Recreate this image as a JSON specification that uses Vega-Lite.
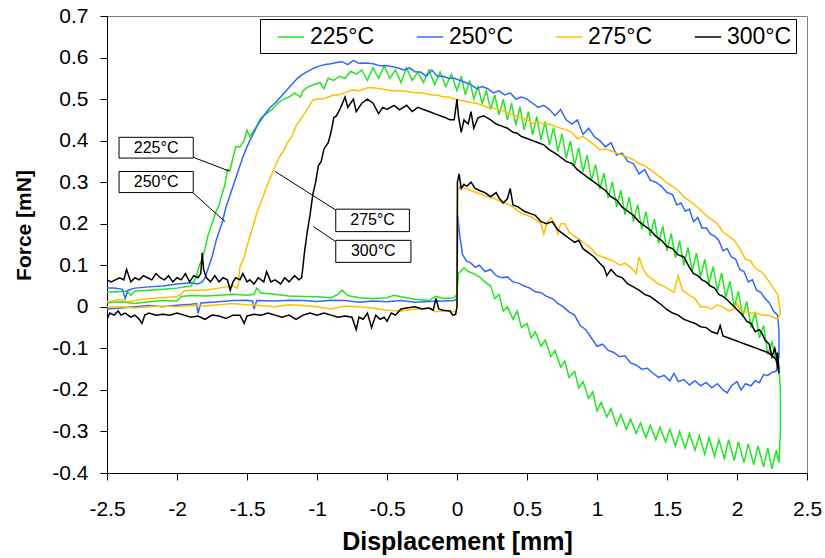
{
  "$schema": "https://vega.github.io/schema/vega-lite/v6.json",
  "width": 700,
  "height": 457,
  "autosize": {"type": "none"},
  "padding": {"left": 107, "top": 16, "right": 18, "bottom": 85},
  "background": "#ffffff",
  "config": {
    "font": "Liberation Sans",
    "view": {"stroke": "#808080", "strokeWidth": 1},
    "axis": {"grid": false, "domainColor": "#000000", "tickColor": "#000000", "labelColor": "#000000", "titleColor": "#000000", "labelFont": "Liberation Sans", "titleFont": "Liberation Sans", "labelFontSize": 21, "tickSize": 7, "labelFlush": false, "labelOverlap": false}
  },
  "datasets": {
    "curves": [
{"T":"225°C","x":-2.5,"y":0.01},{"T":"225°C","x":-2.4,"y":0.012},{"T":"225°C","x":-2.3,"y":0.008},{"T":"225°C","x":-2.2,"y":0.012},{"T":"225°C","x":-2.1,"y":0.015},{"T":"225°C","x":-2.0,"y":0.014},{"T":"225°C","x":-1.97,"y":0.025},{"T":"225°C","x":-1.9,"y":0.027},{"T":"225°C","x":-1.8,"y":0.026},{"T":"225°C","x":-1.7,"y":0.028},{"T":"225°C","x":-1.6,"y":0.03},{"T":"225°C","x":-1.5,"y":0.028},{"T":"225°C","x":-1.45,"y":0.03},{"T":"225°C","x":-1.43,"y":0.045},{"T":"225°C","x":-1.4,"y":0.033},{"T":"225°C","x":-1.3,"y":0.03},{"T":"225°C","x":-1.2,"y":0.026},{"T":"225°C","x":-1.1,"y":0.025},{"T":"225°C","x":-1.0,"y":0.024},{"T":"225°C","x":-0.9,"y":0.022},{"T":"225°C","x":-0.85,"y":0.03},{"T":"225°C","x":-0.82,"y":0.04},{"T":"225°C","x":-0.78,"y":0.027},{"T":"225°C","x":-0.7,"y":0.022},{"T":"225°C","x":-0.6,"y":0.02},{"T":"225°C","x":-0.5,"y":0.022},{"T":"225°C","x":-0.45,"y":0.028},{"T":"225°C","x":-0.4,"y":0.024},{"T":"225°C","x":-0.3,"y":0.018},{"T":"225°C","x":-0.2,"y":0.015},{"T":"225°C","x":-0.15,"y":0.025},{"T":"225°C","x":-0.1,"y":0.02},{"T":"225°C","x":-0.02,"y":0.022},{"T":"225°C","x":0.0,"y":0.03},
{"T":"225°C","x":0.01,"y":0.08},{"T":"225°C","x":0.05,"y":0.094},{"T":"225°C","x":0.08,"y":0.085},{"T":"225°C","x":0.12,"y":0.08},{"T":"225°C","x":0.16,"y":0.072},{"T":"225°C","x":0.2,"y":0.06},{"T":"225°C","x":0.24,"y":0.05},{"T":"225°C","x":0.27,"y":0.02},{"T":"225°C","x":0.3,"y":0.03},{"T":"225°C","x":0.33,"y":-0.01},{"T":"225°C","x":0.36,"y":0.0},{"T":"225°C","x":0.4,"y":-0.03},{"T":"225°C","x":0.43,"y":-0.01},{"T":"225°C","x":0.46,"y":-0.05},{"T":"225°C","x":0.5,"y":-0.04},{"T":"225°C","x":0.53,"y":-0.075},{"T":"225°C","x":0.56,"y":-0.06},{"T":"225°C","x":0.6,"y":-0.095},{"T":"225°C","x":0.63,"y":-0.08},{"T":"225°C","x":0.67,"y":-0.12},{"T":"225°C","x":0.7,"y":-0.105},{"T":"225°C","x":0.74,"y":-0.145},{"T":"225°C","x":0.77,"y":-0.13},{"T":"225°C","x":0.8,"y":-0.17},{"T":"225°C","x":0.84,"y":-0.155},{"T":"225°C","x":0.87,"y":-0.195},{"T":"225°C","x":0.9,"y":-0.18},{"T":"225°C","x":0.94,"y":-0.22},{"T":"225°C","x":0.97,"y":-0.205},{"T":"225°C","x":1.0,"y":-0.25},{"T":"225°C","x":1.03,"y":-0.23},{"T":"225°C","x":1.07,"y":-0.265},{"T":"225°C","x":1.1,"y":-0.245},{"T":"225°C","x":1.14,"y":-0.285},{"T":"225°C","x":1.17,"y":-0.26},{"T":"225°C","x":1.21,"y":-0.295},{"T":"225°C","x":1.24,"y":-0.27},{"T":"225°C","x":1.28,"y":-0.305},{"T":"225°C","x":1.31,"y":-0.28},{"T":"225°C","x":1.35,"y":-0.315},{"T":"225°C","x":1.38,"y":-0.285},{"T":"225°C","x":1.42,"y":-0.32},{"T":"225°C","x":1.45,"y":-0.29},{"T":"225°C","x":1.49,"y":-0.325},{"T":"225°C","x":1.52,"y":-0.295},{"T":"225°C","x":1.56,"y":-0.335},{"T":"225°C","x":1.59,"y":-0.3},{"T":"225°C","x":1.63,"y":-0.34},{"T":"225°C","x":1.66,"y":-0.305},{"T":"225°C","x":1.7,"y":-0.345},{"T":"225°C","x":1.73,"y":-0.31},{"T":"225°C","x":1.77,"y":-0.355},{"T":"225°C","x":1.8,"y":-0.315},{"T":"225°C","x":1.84,"y":-0.36},{"T":"225°C","x":1.87,"y":-0.32},{"T":"225°C","x":1.91,"y":-0.365},{"T":"225°C","x":1.94,"y":-0.32},{"T":"225°C","x":1.98,"y":-0.37},{"T":"225°C","x":2.01,"y":-0.325},{"T":"225°C","x":2.05,"y":-0.375},{"T":"225°C","x":2.08,"y":-0.33},{"T":"225°C","x":2.12,"y":-0.38},{"T":"225°C","x":2.15,"y":-0.335},{"T":"225°C","x":2.19,"y":-0.385},{"T":"225°C","x":2.22,"y":-0.34},{"T":"225°C","x":2.25,"y":-0.39},{"T":"225°C","x":2.28,"y":-0.345},{"T":"225°C","x":2.3,"y":-0.375},
{"T":"225°C","x":2.31,"y":-0.3},{"T":"225°C","x":2.31,"y":-0.2},{"T":"225°C","x":2.3,"y":-0.15},
{"T":"225°C","x":2.28,"y":-0.13},{"T":"225°C","x":2.25,"y":-0.085},{"T":"225°C","x":2.22,"y":-0.115},{"T":"225°C","x":2.19,"y":-0.045},{"T":"225°C","x":2.16,"y":-0.075},{"T":"225°C","x":2.13,"y":-0.012},{"T":"225°C","x":2.1,"y":-0.05},{"T":"225°C","x":2.07,"y":0.013},{"T":"225°C","x":2.04,"y":-0.025},{"T":"225°C","x":2.01,"y":0.037},{"T":"225°C","x":1.98,"y":0.0},{"T":"225°C","x":1.95,"y":0.062},{"T":"225°C","x":1.92,"y":0.023},{"T":"225°C","x":1.89,"y":0.081},{"T":"225°C","x":1.86,"y":0.039},{"T":"225°C","x":1.83,"y":0.097},{"T":"225°C","x":1.8,"y":0.055},{"T":"225°C","x":1.77,"y":0.114},{"T":"225°C","x":1.74,"y":0.072},{"T":"225°C","x":1.71,"y":0.129},{"T":"225°C","x":1.68,"y":0.086},{"T":"225°C","x":1.65,"y":0.143},{"T":"225°C","x":1.62,"y":0.1},{"T":"225°C","x":1.59,"y":0.159},{"T":"225°C","x":1.56,"y":0.118},{"T":"225°C","x":1.53,"y":0.176},{"T":"225°C","x":1.5,"y":0.135},{"T":"225°C","x":1.47,"y":0.194},{"T":"225°C","x":1.44,"y":0.153},{"T":"225°C","x":1.41,"y":0.211},{"T":"225°C","x":1.38,"y":0.17},{"T":"225°C","x":1.35,"y":0.229},{"T":"225°C","x":1.32,"y":0.187},{"T":"225°C","x":1.29,"y":0.246},{"T":"225°C","x":1.26,"y":0.205},{"T":"225°C","x":1.23,"y":0.264},{"T":"225°C","x":1.2,"y":0.222},{"T":"225°C","x":1.17,"y":0.281},{"T":"225°C","x":1.14,"y":0.24},{"T":"225°C","x":1.11,"y":0.301},{"T":"225°C","x":1.08,"y":0.261},{"T":"225°C","x":1.05,"y":0.322},{"T":"225°C","x":1.02,"y":0.283},{"T":"225°C","x":0.99,"y":0.343},{"T":"225°C","x":0.96,"y":0.304},{"T":"225°C","x":0.93,"y":0.365},{"T":"225°C","x":0.9,"y":0.325},{"T":"225°C","x":0.87,"y":0.383},{"T":"225°C","x":0.84,"y":0.341},{"T":"225°C","x":0.81,"y":0.399},{"T":"225°C","x":0.78,"y":0.358},{"T":"225°C","x":0.75,"y":0.416},{"T":"225°C","x":0.72,"y":0.374},{"T":"225°C","x":0.69,"y":0.432},{"T":"225°C","x":0.66,"y":0.39},{"T":"225°C","x":0.63,"y":0.446},{"T":"225°C","x":0.6,"y":0.402},{"T":"225°C","x":0.57,"y":0.458},{"T":"225°C","x":0.54,"y":0.414},{"T":"225°C","x":0.51,"y":0.47},{"T":"225°C","x":0.48,"y":0.426},{"T":"225°C","x":0.45,"y":0.482},{"T":"225°C","x":0.42,"y":0.437},{"T":"225°C","x":0.39,"y":0.49},{"T":"225°C","x":0.36,"y":0.45},{"T":"225°C","x":0.33,"y":0.5},{"T":"225°C","x":0.3,"y":0.462},{"T":"225°C","x":0.27,"y":0.51},{"T":"225°C","x":0.24,"y":0.475},{"T":"225°C","x":0.21,"y":0.52},{"T":"225°C","x":0.18,"y":0.49},{"T":"225°C","x":0.15,"y":0.53},{"T":"225°C","x":0.12,"y":0.5},{"T":"225°C","x":0.09,"y":0.545},{"T":"225°C","x":0.06,"y":0.51},{"T":"225°C","x":0.03,"y":0.555},{"T":"225°C","x":0.0,"y":0.52},{"T":"225°C","x":-0.04,"y":0.56},{"T":"225°C","x":-0.08,"y":0.53},{"T":"225°C","x":-0.12,"y":0.565},{"T":"225°C","x":-0.16,"y":0.535},{"T":"225°C","x":-0.2,"y":0.57},{"T":"225°C","x":-0.24,"y":0.54},{"T":"225°C","x":-0.28,"y":0.565},{"T":"225°C","x":-0.32,"y":0.545},{"T":"225°C","x":-0.36,"y":0.575},{"T":"225°C","x":-0.4,"y":0.54},{"T":"225°C","x":-0.44,"y":0.57},{"T":"225°C","x":-0.48,"y":0.55},{"T":"225°C","x":-0.52,"y":0.58},{"T":"225°C","x":-0.56,"y":0.55},{"T":"225°C","x":-0.6,"y":0.575},{"T":"225°C","x":-0.64,"y":0.545},{"T":"225°C","x":-0.68,"y":0.57},{"T":"225°C","x":-0.72,"y":0.56},{"T":"225°C","x":-0.76,"y":0.567},{"T":"225°C","x":-0.8,"y":0.55},{"T":"225°C","x":-0.84,"y":0.555},{"T":"225°C","x":-0.88,"y":0.545},{"T":"225°C","x":-0.92,"y":0.55},{"T":"225°C","x":-0.95,"y":0.525},{"T":"225°C","x":-0.98,"y":0.54},{"T":"225°C","x":-1.02,"y":0.535},{"T":"225°C","x":-1.06,"y":0.53},{"T":"225°C","x":-1.1,"y":0.52},{"T":"225°C","x":-1.12,"y":0.505},{"T":"225°C","x":-1.16,"y":0.515},{"T":"225°C","x":-1.2,"y":0.505},{"T":"225°C","x":-1.24,"y":0.5},{"T":"225°C","x":-1.28,"y":0.49},{"T":"225°C","x":-1.32,"y":0.475},{"T":"225°C","x":-1.36,"y":0.465},{"T":"225°C","x":-1.4,"y":0.455},{"T":"225°C","x":-1.44,"y":0.43},{"T":"225°C","x":-1.46,"y":0.42},{"T":"225°C","x":-1.48,"y":0.41},{"T":"225°C","x":-1.5,"y":0.425},{"T":"225°C","x":-1.52,"y":0.4},{"T":"225°C","x":-1.55,"y":0.385},{"T":"225°C","x":-1.58,"y":0.385},{"T":"225°C","x":-1.6,"y":0.36},{"T":"225°C","x":-1.62,"y":0.33},{"T":"225°C","x":-1.64,"y":0.33},{"T":"225°C","x":-1.66,"y":0.29},{"T":"225°C","x":-1.68,"y":0.27},{"T":"225°C","x":-1.7,"y":0.245},{"T":"225°C","x":-1.72,"y":0.23},{"T":"225°C","x":-1.74,"y":0.21},{"T":"225°C","x":-1.76,"y":0.19},{"T":"225°C","x":-1.78,"y":0.17},{"T":"225°C","x":-1.8,"y":0.14},{"T":"225°C","x":-1.82,"y":0.115},{"T":"225°C","x":-1.84,"y":0.1},{"T":"225°C","x":-1.86,"y":0.075},{"T":"225°C","x":-1.88,"y":0.06},{"T":"225°C","x":-1.9,"y":0.05},{"T":"225°C","x":-2.0,"y":0.045},{"T":"225°C","x":-2.1,"y":0.042},{"T":"225°C","x":-2.2,"y":0.04},{"T":"225°C","x":-2.3,"y":0.038},{"T":"225°C","x":-2.33,"y":0.028},{"T":"225°C","x":-2.36,"y":0.038},{"T":"225°C","x":-2.4,"y":0.037},{"T":"225°C","x":-2.5,"y":0.035},
{"T":"250°C","x":-2.5,"y":-0.005},{"T":"250°C","x":-2.4,"y":-0.003},{"T":"250°C","x":-2.3,"y":0.0},{"T":"250°C","x":-2.2,"y":0.003},{"T":"250°C","x":-2.1,"y":0.0},{"T":"250°C","x":-2.0,"y":0.004},{"T":"250°C","x":-1.9,"y":0.006},{"T":"250°C","x":-1.86,"y":0.008},{"T":"250°C","x":-1.85,"y":-0.016},{"T":"250°C","x":-1.83,"y":0.009},{"T":"250°C","x":-1.7,"y":0.012},{"T":"250°C","x":-1.6,"y":0.015},{"T":"250°C","x":-1.5,"y":0.016},{"T":"250°C","x":-1.46,"y":0.014},{"T":"250°C","x":-1.45,"y":-0.005},{"T":"250°C","x":-1.43,"y":0.015},{"T":"250°C","x":-1.3,"y":0.014},{"T":"250°C","x":-1.2,"y":0.016},{"T":"250°C","x":-1.1,"y":0.015},{"T":"250°C","x":-1.0,"y":0.013},{"T":"250°C","x":-0.9,"y":0.016},{"T":"250°C","x":-0.8,"y":0.015},{"T":"250°C","x":-0.7,"y":0.011},{"T":"250°C","x":-0.6,"y":0.014},{"T":"250°C","x":-0.5,"y":0.012},{"T":"250°C","x":-0.4,"y":0.015},{"T":"250°C","x":-0.3,"y":0.011},{"T":"250°C","x":-0.2,"y":0.013},{"T":"250°C","x":-0.1,"y":0.014},{"T":"250°C","x":-0.02,"y":0.015},{"T":"250°C","x":0.0,"y":0.02},
{"T":"250°C","x":0.005,"y":0.22},{"T":"250°C","x":0.02,"y":0.17},{"T":"250°C","x":0.04,"y":0.125},{"T":"250°C","x":0.07,"y":0.11},{"T":"250°C","x":0.1,"y":0.105},{"T":"250°C","x":0.13,"y":0.095},{"T":"250°C","x":0.16,"y":0.1},{"T":"250°C","x":0.2,"y":0.085},{"T":"250°C","x":0.24,"y":0.09},{"T":"250°C","x":0.28,"y":0.075},{"T":"250°C","x":0.32,"y":0.07},{"T":"250°C","x":0.36,"y":0.072},{"T":"250°C","x":0.4,"y":0.06},{"T":"250°C","x":0.44,"y":0.057},{"T":"250°C","x":0.48,"y":0.05},{"T":"250°C","x":0.52,"y":0.045},{"T":"250°C","x":0.56,"y":0.036},{"T":"250°C","x":0.6,"y":0.034},{"T":"250°C","x":0.64,"y":0.025},{"T":"250°C","x":0.68,"y":0.02},{"T":"250°C","x":0.72,"y":0.008},{"T":"250°C","x":0.76,"y":0.0},{"T":"250°C","x":0.8,"y":-0.012},{"T":"250°C","x":0.84,"y":-0.02},{"T":"250°C","x":0.88,"y":-0.045},{"T":"250°C","x":0.92,"y":-0.055},{"T":"250°C","x":0.96,"y":-0.075},{"T":"250°C","x":1.0,"y":-0.095},{"T":"250°C","x":1.04,"y":-0.09},{"T":"250°C","x":1.08,"y":-0.105},{"T":"250°C","x":1.12,"y":-0.11},{"T":"250°C","x":1.16,"y":-0.12},{"T":"250°C","x":1.2,"y":-0.118},{"T":"250°C","x":1.24,"y":-0.135},{"T":"250°C","x":1.28,"y":-0.14},{"T":"250°C","x":1.32,"y":-0.15},{"T":"250°C","x":1.36,"y":-0.148},{"T":"250°C","x":1.4,"y":-0.16},{"T":"250°C","x":1.44,"y":-0.17},{"T":"250°C","x":1.48,"y":-0.165},{"T":"250°C","x":1.52,"y":-0.178},{"T":"250°C","x":1.55,"y":-0.16},{"T":"250°C","x":1.58,"y":-0.18},{"T":"250°C","x":1.62,"y":-0.175},{"T":"250°C","x":1.66,"y":-0.188},{"T":"250°C","x":1.7,"y":-0.178},{"T":"250°C","x":1.74,"y":-0.19},{"T":"250°C","x":1.78,"y":-0.182},{"T":"250°C","x":1.82,"y":-0.195},{"T":"250°C","x":1.86,"y":-0.185},{"T":"250°C","x":1.9,"y":-0.2},{"T":"250°C","x":1.93,"y":-0.207},{"T":"250°C","x":1.96,"y":-0.19},{"T":"250°C","x":2.0,"y":-0.18},{"T":"250°C","x":2.03,"y":-0.2},{"T":"250°C","x":2.06,"y":-0.185},{"T":"250°C","x":2.1,"y":-0.19},{"T":"250°C","x":2.13,"y":-0.178},{"T":"250°C","x":2.16,"y":-0.183},{"T":"250°C","x":2.19,"y":-0.163},{"T":"250°C","x":2.22,"y":-0.165},{"T":"250°C","x":2.25,"y":-0.158},{"T":"250°C","x":2.28,"y":-0.155},{"T":"250°C","x":2.3,"y":-0.12},{"T":"250°C","x":2.3,"y":-0.06},{"T":"250°C","x":2.29,"y":-0.02},
{"T":"250°C","x":2.26,"y":-0.01},{"T":"250°C","x":2.23,"y":0.01},{"T":"250°C","x":2.2,"y":0.02},{"T":"250°C","x":2.17,"y":0.035},{"T":"250°C","x":2.14,"y":0.04},{"T":"250°C","x":2.11,"y":0.065},{"T":"250°C","x":2.08,"y":0.06},{"T":"250°C","x":2.05,"y":0.085},{"T":"250°C","x":2.02,"y":0.09},{"T":"250°C","x":1.99,"y":0.115},{"T":"250°C","x":1.96,"y":0.12},{"T":"250°C","x":1.93,"y":0.14},{"T":"250°C","x":1.9,"y":0.135},{"T":"250°C","x":1.87,"y":0.16},{"T":"250°C","x":1.84,"y":0.17},{"T":"250°C","x":1.81,"y":0.175},{"T":"250°C","x":1.78,"y":0.19},{"T":"250°C","x":1.75,"y":0.19},{"T":"250°C","x":1.72,"y":0.215},{"T":"250°C","x":1.69,"y":0.205},{"T":"250°C","x":1.66,"y":0.235},{"T":"250°C","x":1.63,"y":0.23},{"T":"250°C","x":1.6,"y":0.25},{"T":"250°C","x":1.57,"y":0.245},{"T":"250°C","x":1.54,"y":0.27},{"T":"250°C","x":1.5,"y":0.275},{"T":"250°C","x":1.46,"y":0.29},{"T":"250°C","x":1.42,"y":0.3},{"T":"250°C","x":1.38,"y":0.305},{"T":"250°C","x":1.34,"y":0.33},{"T":"250°C","x":1.3,"y":0.32},{"T":"250°C","x":1.26,"y":0.345},{"T":"250°C","x":1.22,"y":0.35},{"T":"250°C","x":1.18,"y":0.37},{"T":"250°C","x":1.14,"y":0.365},{"T":"250°C","x":1.1,"y":0.395},{"T":"250°C","x":1.06,"y":0.385},{"T":"250°C","x":1.02,"y":0.4},{"T":"250°C","x":0.98,"y":0.41},{"T":"250°C","x":0.94,"y":0.43},{"T":"250°C","x":0.9,"y":0.415},{"T":"250°C","x":0.86,"y":0.45},{"T":"250°C","x":0.82,"y":0.44},{"T":"250°C","x":0.78,"y":0.45},{"T":"250°C","x":0.74,"y":0.475},{"T":"250°C","x":0.7,"y":0.46},{"T":"250°C","x":0.66,"y":0.475},{"T":"250°C","x":0.62,"y":0.485},{"T":"250°C","x":0.58,"y":0.48},{"T":"250°C","x":0.54,"y":0.49},{"T":"250°C","x":0.5,"y":0.5},{"T":"250°C","x":0.46,"y":0.505},{"T":"250°C","x":0.42,"y":0.5},{"T":"250°C","x":0.38,"y":0.515},{"T":"250°C","x":0.34,"y":0.51},{"T":"250°C","x":0.3,"y":0.52},{"T":"250°C","x":0.26,"y":0.515},{"T":"250°C","x":0.22,"y":0.525},{"T":"250°C","x":0.18,"y":0.53},{"T":"250°C","x":0.14,"y":0.525},{"T":"250°C","x":0.1,"y":0.535},{"T":"250°C","x":0.06,"y":0.54},{"T":"250°C","x":0.02,"y":0.545},{"T":"250°C","x":-0.02,"y":0.55},{"T":"250°C","x":-0.06,"y":0.55},{"T":"250°C","x":-0.1,"y":0.555},{"T":"250°C","x":-0.14,"y":0.555},{"T":"250°C","x":-0.18,"y":0.57},{"T":"250°C","x":-0.22,"y":0.555},{"T":"250°C","x":-0.26,"y":0.565},{"T":"250°C","x":-0.3,"y":0.566},{"T":"250°C","x":-0.34,"y":0.575},{"T":"250°C","x":-0.38,"y":0.57},{"T":"250°C","x":-0.42,"y":0.575},{"T":"250°C","x":-0.46,"y":0.578},{"T":"250°C","x":-0.5,"y":0.58},{"T":"250°C","x":-0.55,"y":0.58},{"T":"250°C","x":-0.6,"y":0.585},{"T":"250°C","x":-0.65,"y":0.587},{"T":"250°C","x":-0.7,"y":0.586},{"T":"250°C","x":-0.74,"y":0.593},{"T":"250°C","x":-0.78,"y":0.583},{"T":"250°C","x":-0.82,"y":0.59},{"T":"250°C","x":-0.86,"y":0.588},{"T":"250°C","x":-0.9,"y":0.585},{"T":"250°C","x":-0.94,"y":0.583},{"T":"250°C","x":-0.98,"y":0.58},{"T":"250°C","x":-1.02,"y":0.575},{"T":"250°C","x":-1.06,"y":0.568},{"T":"250°C","x":-1.1,"y":0.56},{"T":"250°C","x":-1.14,"y":0.55},{"T":"250°C","x":-1.18,"y":0.535},{"T":"250°C","x":-1.22,"y":0.52},{"T":"250°C","x":-1.26,"y":0.505},{"T":"250°C","x":-1.3,"y":0.49},{"T":"250°C","x":-1.34,"y":0.478},{"T":"250°C","x":-1.38,"y":0.46},{"T":"250°C","x":-1.42,"y":0.44},{"T":"250°C","x":-1.45,"y":0.42},{"T":"250°C","x":-1.48,"y":0.4},{"T":"250°C","x":-1.5,"y":0.385},{"T":"250°C","x":-1.53,"y":0.36},{"T":"250°C","x":-1.55,"y":0.34},{"T":"250°C","x":-1.57,"y":0.32},{"T":"250°C","x":-1.6,"y":0.29},{"T":"250°C","x":-1.62,"y":0.27},{"T":"250°C","x":-1.65,"y":0.24},{"T":"250°C","x":-1.68,"y":0.2},{"T":"250°C","x":-1.7,"y":0.18},{"T":"250°C","x":-1.72,"y":0.16},{"T":"250°C","x":-1.75,"y":0.12},{"T":"250°C","x":-1.78,"y":0.09},{"T":"250°C","x":-1.8,"y":0.07},{"T":"250°C","x":-1.82,"y":0.06},{"T":"250°C","x":-1.85,"y":0.055},{"T":"250°C","x":-1.9,"y":0.058},{"T":"250°C","x":-2.0,"y":0.055},{"T":"250°C","x":-2.1,"y":0.05},{"T":"250°C","x":-2.2,"y":0.048},{"T":"250°C","x":-2.3,"y":0.045},{"T":"250°C","x":-2.35,"y":0.04},{"T":"250°C","x":-2.37,"y":0.02},{"T":"250°C","x":-2.39,"y":0.042},{"T":"250°C","x":-2.45,"y":0.045},{"T":"250°C","x":-2.5,"y":0.045},
{"T":"275°C","x":-2.5,"y":0.0},{"T":"275°C","x":-2.4,"y":0.0},{"T":"275°C","x":-2.3,"y":-0.003},{"T":"275°C","x":-2.2,"y":0.0},{"T":"275°C","x":-2.1,"y":0.002},{"T":"275°C","x":-2.0,"y":0.0},{"T":"275°C","x":-1.9,"y":0.003},{"T":"275°C","x":-1.8,"y":0.002},{"T":"275°C","x":-1.7,"y":0.005},{"T":"275°C","x":-1.6,"y":0.008},{"T":"275°C","x":-1.5,"y":0.005},{"T":"275°C","x":-1.4,"y":0.003},{"T":"275°C","x":-1.3,"y":0.0},{"T":"275°C","x":-1.2,"y":0.005},{"T":"275°C","x":-1.1,"y":0.003},{"T":"275°C","x":-1.0,"y":0.0},{"T":"275°C","x":-0.9,"y":-0.005},{"T":"275°C","x":-0.8,"y":0.002},{"T":"275°C","x":-0.7,"y":0.0},{"T":"275°C","x":-0.6,"y":-0.003},{"T":"275°C","x":-0.5,"y":-0.008},{"T":"275°C","x":-0.4,"y":-0.01},{"T":"275°C","x":-0.3,"y":-0.005},{"T":"275°C","x":-0.2,"y":-0.003},{"T":"275°C","x":-0.15,"y":-0.012},{"T":"275°C","x":-0.1,"y":-0.01},{"T":"275°C","x":-0.05,"y":-0.01},{"T":"275°C","x":-0.01,"y":-0.012},{"T":"275°C","x":0.0,"y":0.0},
{"T":"275°C","x":0.005,"y":0.28},{"T":"275°C","x":0.02,"y":0.29},{"T":"275°C","x":0.06,"y":0.285},{"T":"275°C","x":0.1,"y":0.28},{"T":"275°C","x":0.14,"y":0.275},{"T":"275°C","x":0.18,"y":0.27},{"T":"275°C","x":0.22,"y":0.265},{"T":"275°C","x":0.26,"y":0.262},{"T":"275°C","x":0.3,"y":0.255},{"T":"275°C","x":0.34,"y":0.25},{"T":"275°C","x":0.38,"y":0.245},{"T":"275°C","x":0.42,"y":0.235},{"T":"275°C","x":0.46,"y":0.225},{"T":"275°C","x":0.5,"y":0.22},{"T":"275°C","x":0.54,"y":0.215},{"T":"275°C","x":0.58,"y":0.205},{"T":"275°C","x":0.6,"y":0.2},{"T":"275°C","x":0.62,"y":0.175},{"T":"275°C","x":0.64,"y":0.2},{"T":"275°C","x":0.67,"y":0.215},{"T":"275°C","x":0.7,"y":0.2},{"T":"275°C","x":0.72,"y":0.175},{"T":"275°C","x":0.74,"y":0.2},{"T":"275°C","x":0.77,"y":0.2},{"T":"275°C","x":0.8,"y":0.18},{"T":"275°C","x":0.84,"y":0.17},{"T":"275°C","x":0.88,"y":0.16},{"T":"275°C","x":0.92,"y":0.15},{"T":"275°C","x":0.96,"y":0.14},{"T":"275°C","x":1.0,"y":0.125},{"T":"275°C","x":1.04,"y":0.12},{"T":"275°C","x":1.08,"y":0.115},{"T":"275°C","x":1.12,"y":0.11},{"T":"275°C","x":1.16,"y":0.1},{"T":"275°C","x":1.2,"y":0.105},{"T":"275°C","x":1.24,"y":0.095},{"T":"275°C","x":1.28,"y":0.08},{"T":"275°C","x":1.3,"y":0.12},{"T":"275°C","x":1.33,"y":0.09},{"T":"275°C","x":1.36,"y":0.075},{"T":"275°C","x":1.4,"y":0.065},{"T":"275°C","x":1.44,"y":0.055},{"T":"275°C","x":1.48,"y":0.05},{"T":"275°C","x":1.52,"y":0.04},{"T":"275°C","x":1.55,"y":0.035},{"T":"275°C","x":1.58,"y":0.075},{"T":"275°C","x":1.61,"y":0.04},{"T":"275°C","x":1.65,"y":0.03},{"T":"275°C","x":1.7,"y":0.02},{"T":"275°C","x":1.74,"y":0.0},{"T":"275°C","x":1.78,"y":0.0},{"T":"275°C","x":1.82,"y":-0.005},{"T":"275°C","x":1.86,"y":0.005},{"T":"275°C","x":1.9,"y":0.0},{"T":"275°C","x":1.94,"y":-0.01},{"T":"275°C","x":1.98,"y":-0.005},{"T":"275°C","x":2.0,"y":0.01},{"T":"275°C","x":2.02,"y":-0.008},{"T":"275°C","x":2.06,"y":-0.012},{"T":"275°C","x":2.1,"y":-0.015},{"T":"275°C","x":2.14,"y":-0.015},{"T":"275°C","x":2.18,"y":-0.02},{"T":"275°C","x":2.22,"y":-0.02},{"T":"275°C","x":2.26,"y":-0.025},{"T":"275°C","x":2.29,"y":-0.03},
{"T":"275°C","x":2.31,"y":-0.015},{"T":"275°C","x":2.3,"y":0.01},{"T":"275°C","x":2.29,"y":0.03},{"T":"275°C","x":2.26,"y":0.045},{"T":"275°C","x":2.23,"y":0.06},{"T":"275°C","x":2.2,"y":0.075},{"T":"275°C","x":2.17,"y":0.085},{"T":"275°C","x":2.14,"y":0.09},{"T":"275°C","x":2.12,"y":0.097},{"T":"275°C","x":2.1,"y":0.11},{"T":"275°C","x":2.06,"y":0.115},{"T":"275°C","x":2.02,"y":0.14},{"T":"275°C","x":1.98,"y":0.16},{"T":"275°C","x":1.94,"y":0.17},{"T":"275°C","x":1.9,"y":0.18},{"T":"275°C","x":1.86,"y":0.2},{"T":"275°C","x":1.82,"y":0.21},{"T":"275°C","x":1.78,"y":0.22},{"T":"275°C","x":1.74,"y":0.233},{"T":"275°C","x":1.7,"y":0.245},{"T":"275°C","x":1.66,"y":0.255},{"T":"275°C","x":1.62,"y":0.265},{"T":"275°C","x":1.58,"y":0.28},{"T":"275°C","x":1.54,"y":0.29},{"T":"275°C","x":1.5,"y":0.298},{"T":"275°C","x":1.46,"y":0.31},{"T":"275°C","x":1.42,"y":0.32},{"T":"275°C","x":1.38,"y":0.33},{"T":"275°C","x":1.34,"y":0.34},{"T":"275°C","x":1.3,"y":0.345},{"T":"275°C","x":1.26,"y":0.354},{"T":"275°C","x":1.22,"y":0.36},{"T":"275°C","x":1.18,"y":0.365},{"T":"275°C","x":1.14,"y":0.37},{"T":"275°C","x":1.1,"y":0.375},{"T":"275°C","x":1.06,"y":0.38},{"T":"275°C","x":1.02,"y":0.378},{"T":"275°C","x":0.98,"y":0.39},{"T":"275°C","x":0.94,"y":0.4},{"T":"275°C","x":0.9,"y":0.41},{"T":"275°C","x":0.86,"y":0.405},{"T":"275°C","x":0.82,"y":0.42},{"T":"275°C","x":0.78,"y":0.426},{"T":"275°C","x":0.74,"y":0.43},{"T":"275°C","x":0.7,"y":0.435},{"T":"275°C","x":0.66,"y":0.44},{"T":"275°C","x":0.62,"y":0.44},{"T":"275°C","x":0.58,"y":0.445},{"T":"275°C","x":0.55,"y":0.44},{"T":"275°C","x":0.5,"y":0.45},{"T":"275°C","x":0.46,"y":0.455},{"T":"275°C","x":0.42,"y":0.46},{"T":"275°C","x":0.38,"y":0.465},{"T":"275°C","x":0.34,"y":0.47},{"T":"275°C","x":0.31,"y":0.474},{"T":"275°C","x":0.26,"y":0.478},{"T":"275°C","x":0.22,"y":0.48},{"T":"275°C","x":0.18,"y":0.485},{"T":"275°C","x":0.14,"y":0.49},{"T":"275°C","x":0.1,"y":0.492},{"T":"275°C","x":0.06,"y":0.495},{"T":"275°C","x":0.02,"y":0.497},{"T":"275°C","x":-0.02,"y":0.5},{"T":"275°C","x":-0.06,"y":0.505},{"T":"275°C","x":-0.1,"y":0.505},{"T":"275°C","x":-0.14,"y":0.51},{"T":"275°C","x":-0.18,"y":0.51},{"T":"275°C","x":-0.22,"y":0.513},{"T":"275°C","x":-0.26,"y":0.515},{"T":"275°C","x":-0.3,"y":0.515},{"T":"275°C","x":-0.35,"y":0.518},{"T":"275°C","x":-0.41,"y":0.52},{"T":"275°C","x":-0.46,"y":0.52},{"T":"275°C","x":-0.5,"y":0.522},{"T":"275°C","x":-0.55,"y":0.525},{"T":"275°C","x":-0.6,"y":0.527},{"T":"275°C","x":-0.64,"y":0.527},{"T":"275°C","x":-0.7,"y":0.52},{"T":"275°C","x":-0.75,"y":0.522},{"T":"275°C","x":-0.8,"y":0.515},{"T":"275°C","x":-0.85,"y":0.51},{"T":"275°C","x":-0.88,"y":0.51},{"T":"275°C","x":-0.92,"y":0.505},{"T":"275°C","x":-0.96,"y":0.5},{"T":"275°C","x":-1.0,"y":0.5},{"T":"275°C","x":-1.03,"y":0.498},{"T":"275°C","x":-1.06,"y":0.48},{"T":"275°C","x":-1.09,"y":0.465},{"T":"275°C","x":-1.12,"y":0.45},{"T":"275°C","x":-1.15,"y":0.435},{"T":"275°C","x":-1.18,"y":0.41},{"T":"275°C","x":-1.21,"y":0.395},{"T":"275°C","x":-1.24,"y":0.375},{"T":"275°C","x":-1.27,"y":0.36},{"T":"275°C","x":-1.31,"y":0.33},{"T":"275°C","x":-1.34,"y":0.305},{"T":"275°C","x":-1.36,"y":0.29},{"T":"275°C","x":-1.39,"y":0.26},{"T":"275°C","x":-1.43,"y":0.226},{"T":"275°C","x":-1.46,"y":0.19},{"T":"275°C","x":-1.48,"y":0.17},{"T":"275°C","x":-1.5,"y":0.145},{"T":"275°C","x":-1.52,"y":0.12},{"T":"275°C","x":-1.55,"y":0.097},{"T":"275°C","x":-1.56,"y":0.06},{"T":"275°C","x":-1.57,"y":0.045},{"T":"275°C","x":-1.6,"y":0.05},{"T":"275°C","x":-1.65,"y":0.048},{"T":"275°C","x":-1.7,"y":0.045},{"T":"275°C","x":-1.8,"y":0.04},{"T":"275°C","x":-1.9,"y":0.04},{"T":"275°C","x":-1.95,"y":0.038},{"T":"275°C","x":-1.97,"y":0.03},{"T":"275°C","x":-2.0,"y":0.025},{"T":"275°C","x":-2.1,"y":0.022},{"T":"275°C","x":-2.2,"y":0.02},{"T":"275°C","x":-2.3,"y":0.015},{"T":"275°C","x":-2.35,"y":0.012},{"T":"275°C","x":-2.4,"y":0.018},{"T":"275°C","x":-2.5,"y":0.012},
{"T":"300°C","x":-2.5,"y":-0.03},{"T":"300°C","x":-2.48,"y":-0.015},{"T":"300°C","x":-2.45,"y":-0.02},{"T":"300°C","x":-2.42,"y":-0.01},{"T":"300°C","x":-2.4,"y":-0.02},{"T":"300°C","x":-2.37,"y":-0.015},{"T":"300°C","x":-2.33,"y":-0.025},{"T":"300°C","x":-2.3,"y":-0.02},{"T":"300°C","x":-2.27,"y":-0.03},{"T":"300°C","x":-2.25,"y":-0.04},{"T":"300°C","x":-2.23,"y":-0.02},{"T":"300°C","x":-2.2,"y":-0.015},{"T":"300°C","x":-2.15,"y":-0.02},{"T":"300°C","x":-2.1,"y":-0.018},{"T":"300°C","x":-2.05,"y":-0.02},{"T":"300°C","x":-2.0,"y":-0.015},{"T":"300°C","x":-1.95,"y":-0.02},{"T":"300°C","x":-1.9,"y":-0.025},{"T":"300°C","x":-1.85,"y":-0.022},{"T":"300°C","x":-1.8,"y":-0.03},{"T":"300°C","x":-1.75,"y":-0.02},{"T":"300°C","x":-1.7,"y":-0.022},{"T":"300°C","x":-1.65,"y":-0.028},{"T":"300°C","x":-1.6,"y":-0.02},{"T":"300°C","x":-1.55,"y":-0.02},{"T":"300°C","x":-1.52,"y":-0.04},{"T":"300°C","x":-1.5,"y":-0.022},{"T":"300°C","x":-1.45,"y":-0.018},{"T":"300°C","x":-1.4,"y":-0.02},{"T":"300°C","x":-1.35,"y":-0.015},{"T":"300°C","x":-1.3,"y":-0.02},{"T":"300°C","x":-1.25,"y":-0.025},{"T":"300°C","x":-1.2,"y":-0.02},{"T":"300°C","x":-1.15,"y":-0.03},{"T":"300°C","x":-1.1,"y":-0.02},{"T":"300°C","x":-1.05,"y":-0.015},{"T":"300°C","x":-1.0,"y":-0.02},{"T":"300°C","x":-0.95,"y":-0.015},{"T":"300°C","x":-0.9,"y":-0.02},{"T":"300°C","x":-0.85,"y":-0.025},{"T":"300°C","x":-0.8,"y":-0.022},{"T":"300°C","x":-0.75,"y":-0.025},{"T":"300°C","x":-0.72,"y":-0.055},{"T":"300°C","x":-0.7,"y":-0.025},{"T":"300°C","x":-0.67,"y":-0.03},{"T":"300°C","x":-0.64,"y":-0.015},{"T":"300°C","x":-0.61,"y":-0.05},{"T":"300°C","x":-0.58,"y":-0.02},{"T":"300°C","x":-0.55,"y":-0.03},{"T":"300°C","x":-0.52,"y":-0.025},{"T":"300°C","x":-0.5,"y":-0.035},{"T":"300°C","x":-0.47,"y":-0.015},{"T":"300°C","x":-0.44,"y":-0.02},{"T":"300°C","x":-0.4,"y":-0.005},{"T":"300°C","x":-0.35,"y":-0.002},{"T":"300°C","x":-0.3,"y":0.0},{"T":"300°C","x":-0.25,"y":-0.005},{"T":"300°C","x":-0.2,"y":-0.003},{"T":"300°C","x":-0.17,"y":-0.008},{"T":"300°C","x":-0.15,"y":0.02},{"T":"300°C","x":-0.13,"y":-0.005},{"T":"300°C","x":-0.1,"y":-0.008},{"T":"300°C","x":-0.05,"y":-0.01},{"T":"300°C","x":-0.03,"y":-0.02},{"T":"300°C","x":-0.01,"y":-0.018},{"T":"300°C","x":0.0,"y":0.0},
{"T":"300°C","x":0.003,"y":0.3},{"T":"300°C","x":0.015,"y":0.32},{"T":"300°C","x":0.03,"y":0.285},{"T":"300°C","x":0.05,"y":0.295},{"T":"300°C","x":0.07,"y":0.29},{"T":"300°C","x":0.1,"y":0.3},{"T":"300°C","x":0.13,"y":0.285},{"T":"300°C","x":0.16,"y":0.28},{"T":"300°C","x":0.2,"y":0.275},{"T":"300°C","x":0.24,"y":0.265},{"T":"300°C","x":0.28,"y":0.275},{"T":"300°C","x":0.3,"y":0.262},{"T":"300°C","x":0.33,"y":0.25},{"T":"300°C","x":0.36,"y":0.26},{"T":"300°C","x":0.38,"y":0.285},{"T":"300°C","x":0.4,"y":0.245},{"T":"300°C","x":0.44,"y":0.24},{"T":"300°C","x":0.48,"y":0.23},{"T":"300°C","x":0.52,"y":0.225},{"T":"300°C","x":0.56,"y":0.22},{"T":"300°C","x":0.6,"y":0.205},{"T":"300°C","x":0.64,"y":0.2},{"T":"300°C","x":0.68,"y":0.205},{"T":"300°C","x":0.72,"y":0.185},{"T":"300°C","x":0.76,"y":0.175},{"T":"300°C","x":0.8,"y":0.165},{"T":"300°C","x":0.84,"y":0.155},{"T":"300°C","x":0.87,"y":0.16},{"T":"300°C","x":0.9,"y":0.14},{"T":"300°C","x":0.94,"y":0.13},{"T":"300°C","x":0.98,"y":0.12},{"T":"300°C","x":1.02,"y":0.105},{"T":"300°C","x":1.05,"y":0.095},{"T":"300°C","x":1.07,"y":0.075},{"T":"300°C","x":1.1,"y":0.09},{"T":"300°C","x":1.14,"y":0.075},{"T":"300°C","x":1.18,"y":0.07},{"T":"300°C","x":1.22,"y":0.055},{"T":"300°C","x":1.26,"y":0.048},{"T":"300°C","x":1.3,"y":0.04},{"T":"300°C","x":1.34,"y":0.03},{"T":"300°C","x":1.38,"y":0.025},{"T":"300°C","x":1.42,"y":0.015},{"T":"300°C","x":1.46,"y":0.005},{"T":"300°C","x":1.5,"y":-0.007},{"T":"300°C","x":1.54,"y":-0.015},{"T":"300°C","x":1.58,"y":-0.02},{"T":"300°C","x":1.62,"y":-0.03},{"T":"300°C","x":1.66,"y":-0.035},{"T":"300°C","x":1.7,"y":-0.04},{"T":"300°C","x":1.74,"y":-0.048},{"T":"300°C","x":1.78,"y":-0.05},{"T":"300°C","x":1.82,"y":-0.06},{"T":"300°C","x":1.86,"y":-0.065},{"T":"300°C","x":1.88,"y":-0.045},{"T":"300°C","x":1.9,"y":-0.07},{"T":"300°C","x":1.94,"y":-0.075},{"T":"300°C","x":1.98,"y":-0.08},{"T":"300°C","x":2.02,"y":-0.085},{"T":"300°C","x":2.06,"y":-0.09},{"T":"300°C","x":2.1,"y":-0.095},{"T":"300°C","x":2.14,"y":-0.1},{"T":"300°C","x":2.18,"y":-0.105},{"T":"300°C","x":2.22,"y":-0.11},{"T":"300°C","x":2.26,"y":-0.12},{"T":"300°C","x":2.28,"y":-0.128},
{"T":"300°C","x":2.3,"y":-0.16},{"T":"300°C","x":2.29,"y":-0.11},{"T":"300°C","x":2.3,"y":-0.15},{"T":"300°C","x":2.29,"y":-0.13},{"T":"300°C","x":2.27,"y":-0.1},{"T":"300°C","x":2.25,"y":-0.12},{"T":"300°C","x":2.23,"y":-0.09},{"T":"300°C","x":2.2,"y":-0.08},{"T":"300°C","x":2.18,"y":-0.065},{"T":"300°C","x":2.16,"y":-0.055},{"T":"300°C","x":2.13,"y":-0.06},{"T":"300°C","x":2.1,"y":-0.04},{"T":"300°C","x":2.07,"y":-0.035},{"T":"300°C","x":2.04,"y":-0.02},{"T":"300°C","x":2.01,"y":-0.01},{"T":"300°C","x":1.98,"y":0.0},{"T":"300°C","x":1.95,"y":0.01},{"T":"300°C","x":1.93,"y":0.017},{"T":"300°C","x":1.9,"y":0.025},{"T":"300°C","x":1.87,"y":0.03},{"T":"300°C","x":1.84,"y":0.045},{"T":"300°C","x":1.81,"y":0.05},{"T":"300°C","x":1.78,"y":0.06},{"T":"300°C","x":1.75,"y":0.065},{"T":"300°C","x":1.72,"y":0.075},{"T":"300°C","x":1.69,"y":0.08},{"T":"300°C","x":1.66,"y":0.095},{"T":"300°C","x":1.62,"y":0.12},{"T":"300°C","x":1.58,"y":0.125},{"T":"300°C","x":1.54,"y":0.14},{"T":"300°C","x":1.5,"y":0.145},{"T":"300°C","x":1.46,"y":0.16},{"T":"300°C","x":1.42,"y":0.17},{"T":"300°C","x":1.38,"y":0.185},{"T":"300°C","x":1.34,"y":0.195},{"T":"300°C","x":1.3,"y":0.205},{"T":"300°C","x":1.26,"y":0.22},{"T":"300°C","x":1.22,"y":0.23},{"T":"300°C","x":1.18,"y":0.24},{"T":"300°C","x":1.14,"y":0.257},{"T":"300°C","x":1.1,"y":0.265},{"T":"300°C","x":1.06,"y":0.28},{"T":"300°C","x":1.02,"y":0.29},{"T":"300°C","x":0.98,"y":0.3},{"T":"300°C","x":0.94,"y":0.31},{"T":"300°C","x":0.9,"y":0.32},{"T":"300°C","x":0.86,"y":0.33},{"T":"300°C","x":0.82,"y":0.345},{"T":"300°C","x":0.78,"y":0.35},{"T":"300°C","x":0.74,"y":0.36},{"T":"300°C","x":0.7,"y":0.37},{"T":"300°C","x":0.66,"y":0.378},{"T":"300°C","x":0.62,"y":0.39},{"T":"300°C","x":0.58,"y":0.395},{"T":"300°C","x":0.54,"y":0.4},{"T":"300°C","x":0.5,"y":0.405},{"T":"300°C","x":0.46,"y":0.41},{"T":"300°C","x":0.43,"y":0.418},{"T":"300°C","x":0.4,"y":0.42},{"T":"300°C","x":0.36,"y":0.43},{"T":"300°C","x":0.32,"y":0.435},{"T":"300°C","x":0.28,"y":0.44},{"T":"300°C","x":0.24,"y":0.45},{"T":"300°C","x":0.19,"y":0.46},{"T":"300°C","x":0.15,"y":0.455},{"T":"300°C","x":0.12,"y":0.43},{"T":"300°C","x":0.1,"y":0.47},{"T":"300°C","x":0.08,"y":0.44},{"T":"300°C","x":0.05,"y":0.45},{"T":"300°C","x":0.03,"y":0.42},{"T":"300°C","x":0.01,"y":0.46},{"T":"300°C","x":0.0,"y":0.5},{"T":"300°C","x":-0.02,"y":0.45},{"T":"300°C","x":-0.05,"y":0.45},{"T":"300°C","x":-0.08,"y":0.455},{"T":"300°C","x":-0.12,"y":0.46},{"T":"300°C","x":-0.16,"y":0.465},{"T":"300°C","x":-0.2,"y":0.47},{"T":"300°C","x":-0.24,"y":0.475},{"T":"300°C","x":-0.28,"y":0.48},{"T":"300°C","x":-0.32,"y":0.47},{"T":"300°C","x":-0.36,"y":0.485},{"T":"300°C","x":-0.41,"y":0.474},{"T":"300°C","x":-0.45,"y":0.485},{"T":"300°C","x":-0.5,"y":0.475},{"T":"300°C","x":-0.53,"y":0.48},{"T":"300°C","x":-0.56,"y":0.465},{"T":"300°C","x":-0.6,"y":0.49},{"T":"300°C","x":-0.64,"y":0.5},{"T":"300°C","x":-0.68,"y":0.49},{"T":"300°C","x":-0.72,"y":0.47},{"T":"300°C","x":-0.74,"y":0.5},{"T":"300°C","x":-0.78,"y":0.48},{"T":"300°C","x":-0.8,"y":0.505},{"T":"300°C","x":-0.83,"y":0.48},{"T":"300°C","x":-0.86,"y":0.46},{"T":"300°C","x":-0.88,"y":0.455},{"T":"300°C","x":-0.9,"y":0.42},{"T":"300°C","x":-0.92,"y":0.395},{"T":"300°C","x":-0.95,"y":0.38},{"T":"300°C","x":-0.97,"y":0.35},{"T":"300°C","x":-0.99,"y":0.34},{"T":"300°C","x":-1.01,"y":0.3},{"T":"300°C","x":-1.03,"y":0.27},{"T":"300°C","x":-1.05,"y":0.22},{"T":"300°C","x":-1.07,"y":0.18},{"T":"300°C","x":-1.09,"y":0.13},{"T":"300°C","x":-1.1,"y":0.097},{"T":"300°C","x":-1.11,"y":0.07},{"T":"300°C","x":-1.13,"y":0.065},{"T":"300°C","x":-1.16,"y":0.075},{"T":"300°C","x":-1.2,"y":0.06},{"T":"300°C","x":-1.23,"y":0.07},{"T":"300°C","x":-1.26,"y":0.055},{"T":"300°C","x":-1.3,"y":0.065},{"T":"300°C","x":-1.33,"y":0.06},{"T":"300°C","x":-1.36,"y":0.085},{"T":"300°C","x":-1.38,"y":0.06},{"T":"300°C","x":-1.42,"y":0.07},{"T":"300°C","x":-1.45,"y":0.055},{"T":"300°C","x":-1.48,"y":0.065},{"T":"300°C","x":-1.5,"y":0.06},{"T":"300°C","x":-1.53,"y":0.08},{"T":"300°C","x":-1.55,"y":0.065},{"T":"300°C","x":-1.58,"y":0.07},{"T":"300°C","x":-1.6,"y":0.06},{"T":"300°C","x":-1.62,"y":0.04},{"T":"300°C","x":-1.64,"y":0.065},{"T":"300°C","x":-1.67,"y":0.07},{"T":"300°C","x":-1.7,"y":0.06},{"T":"300°C","x":-1.73,"y":0.075},{"T":"300°C","x":-1.76,"y":0.06},{"T":"300°C","x":-1.79,"y":0.07},{"T":"300°C","x":-1.81,"y":0.09},{"T":"300°C","x":-1.82,"y":0.13},{"T":"300°C","x":-1.83,"y":0.08},{"T":"300°C","x":-1.85,"y":0.07},{"T":"300°C","x":-1.88,"y":0.075},{"T":"300°C","x":-1.91,"y":0.06},{"T":"300°C","x":-1.94,"y":0.08},{"T":"300°C","x":-1.97,"y":0.065},{"T":"300°C","x":-2.0,"y":0.07},{"T":"300°C","x":-2.03,"y":0.06},{"T":"300°C","x":-2.06,"y":0.075},{"T":"300°C","x":-2.09,"y":0.065},{"T":"300°C","x":-2.12,"y":0.07},{"T":"300°C","x":-2.15,"y":0.08},{"T":"300°C","x":-2.18,"y":0.065},{"T":"300°C","x":-2.21,"y":0.07},{"T":"300°C","x":-2.24,"y":0.075},{"T":"300°C","x":-2.27,"y":0.065},{"T":"300°C","x":-2.3,"y":0.07},{"T":"300°C","x":-2.33,"y":0.06},{"T":"300°C","x":-2.36,"y":0.09},{"T":"300°C","x":-2.38,"y":0.065},{"T":"300°C","x":-2.41,"y":0.07},{"T":"300°C","x":-2.44,"y":0.065},{"T":"300°C","x":-2.47,"y":0.06},{"T":"300°C","x":-2.5,"y":0.065}
    ],
    "notes": [
      {"label":"225°C","bx1":-2.414,"bx2":-1.884,"by1":0.408,"by2":0.358,"tx":-2.149,"ty":0.383,"lx1":-1.884,"ly1":0.36,"lx2":-1.621,"ly2":0.326},
      {"label":"250°C","bx1":-2.414,"bx2":-1.884,"by1":0.3257,"by2":0.275,"tx":-2.149,"ty":0.3,"lx1":-1.888,"ly1":0.275,"lx2":-1.657,"ly2":0.205},
      {"label":"275°C","bx1":-0.866,"bx2":-0.34,"by1":0.235,"by2":0.181,"tx":-0.603,"ty":0.208,"lx1":-1.3,"ly1":0.326,"lx2":-0.866,"ly2":0.233},
      {"label":"300°C","bx1":-0.866,"bx2":-0.329,"by1":0.16,"by2":0.107,"tx":-0.598,"ty":0.1335,"lx1":-1.026,"ly1":0.193,"lx2":-0.866,"ly2":0.157}
    ]
  },
  "layer": [
    {
      "data": {"name": "curves"},
      "mark": {"type": "line", "strokeWidth": 1.5, "clip": true},
      "encoding": {
        "x": {"field": "x", "type": "quantitative",
          "scale": {"domain": [-2.5, 2.5], "nice": false, "zero": false},
          "axis": {"values": [-2.5,-2,-1.5,-1,-0.5,0,0.5,1,1.5,2,2.5], "labelExpr": "'' + datum.value", "labelPadding": 18, "title": "Displacement [mm]", "titleFontSize": 25, "titleFontWeight": "bold", "titlePadding": 10}},
        "y": {"field": "y", "type": "quantitative",
          "scale": {"domain": [-0.4, 0.7], "nice": false, "zero": false},
          "axis": {"values": [-0.4,-0.3,-0.2,-0.1,0,0.1,0.2,0.3,0.4,0.5,0.6,0.7], "labelExpr": "'' + datum.value", "labelPadding": 12, "title": "Force [mN]", "titleFontSize": 21, "titleFontWeight": "bold", "titlePadding": 17, "titleY": 209}},
        "color": {"field": "T", "type": "nominal",
          "scale": {"domain": ["225°C","250°C","275°C","300°C"], "range": ["#22e622","#3366ff","#ffc000","#000000"]},
          "legend": {"orient": "none", "legendX": 153, "legendY": 3, "direction": "horizontal", "columns": 4, "title": null, "symbolType": "stroke", "symbolSize": 700, "symbolStrokeWidth": 1.5, "labelFontSize": 23, "labelFont": "Liberation Sans", "labelColor": "#000000", "labelOffset": 5, "columnPadding": 28, "padding": 4, "strokeColor": "#000000", "fillColor": "#ffffff", "symbolOffset": 13}},
        "order": {"value": null}
      }
    },
    {
      "data": {"name": "notes"},
      "mark": {"type": "rule", "color": "#000000", "strokeWidth": 1},
      "encoding": {
        "x": {"field": "lx1", "type": "quantitative"},
        "y": {"field": "ly1", "type": "quantitative"},
        "x2": {"field": "lx2"},
        "y2": {"field": "ly2"}
      }
    },
    {
      "data": {"name": "notes"},
      "mark": {"type": "rect", "fill": "#ffffff", "stroke": "#000000", "strokeWidth": 1},
      "encoding": {
        "x": {"field": "bx1", "type": "quantitative"},
        "x2": {"field": "bx2"},
        "y": {"field": "by1", "type": "quantitative"},
        "y2": {"field": "by2"}
      }
    },
    {
      "data": {"name": "notes"},
      "mark": {"type": "text", "fontSize": 16, "font": "Liberation Sans", "color": "#000000", "align": "center", "baseline": "middle"},
      "encoding": {
        "x": {"field": "tx", "type": "quantitative"},
        "y": {"field": "ty", "type": "quantitative"},
        "text": {"field": "label"}
      }
    }
  ]
}
